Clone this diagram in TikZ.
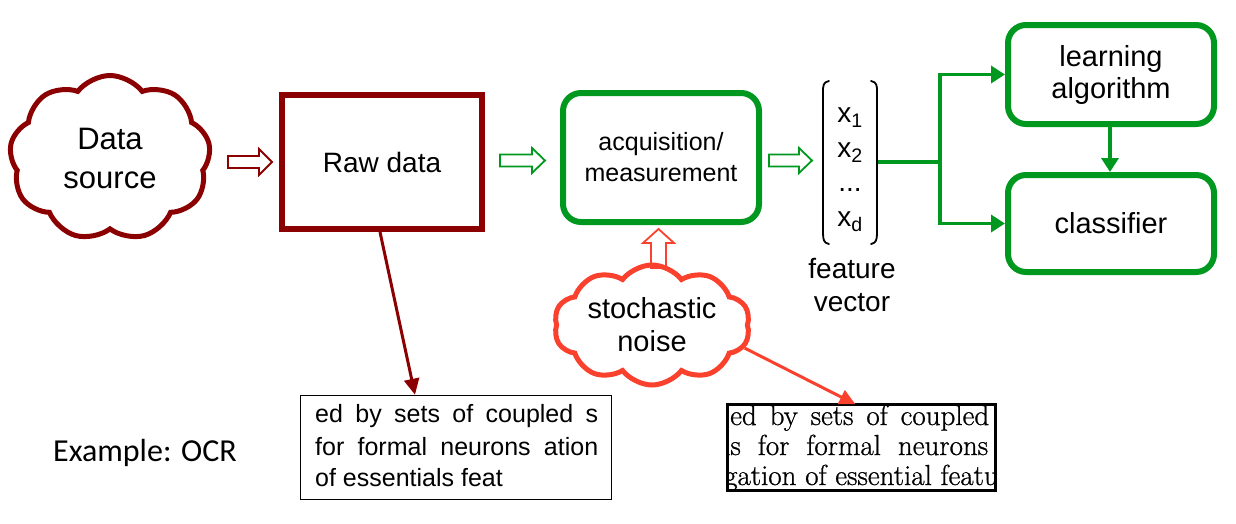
\documentclass[tikz,border=0pt]{standalone}
\usepackage{fontspec}
\setmainfont{Liberation Sans}
\newfontfamily\calibri{Carlito}
\newfontfamily\scanfont[FakeBold=0.8]{Latin Modern Roman}
\usetikzlibrary{shapes.symbols,arrows.meta}
\definecolor{dred}{RGB}{139,0,0}
\definecolor{nred}{RGB}{250,65,45}
\definecolor{dgreen}{RGB}{0,152,30}
\tikzset{
  cloudbox/.style={cloud, cloud puffs=9, cloud puff arc=105, line width=5pt, align=center, inner sep=0pt},
  hollow/.style={draw=#1, fill=white, line width=1.8pt, line join=miter},
  gbox/.style={draw=dgreen, line width=6pt, rounded corners=18pt, align=center},
  gline/.style={draw=dgreen, line width=3.5pt},
  garrow/.style={gline, -{Triangle[length=14pt,width=17pt]}},
  fA/.style={font=\fontsize{28}{33}\selectfont},
  scan/.style={anchor=base west, inner sep=0pt, font=\scanfont\fontsize{29}{30}\selectfont},
}
\begin{document}
\begin{tikzpicture}[x=1pt,y=-1pt]
\useasboundingbox (0,0) rectangle (1236,523);
% data source
\node[cloudbox, draw=dred, aspect=1.0, minimum width=201pt, minimum height=165pt,
      font=\fontsize{31}{39}\selectfont] (src) at (110,158) {Data\\source};
% raw data
\node[draw=dred, line width=6pt, minimum width=200pt, minimum height=134pt, fA] (raw) at (382,162) {Raw data};
% hollow arrows
\draw[hollow=dred] (228,156) -- (259,156) -- (259,149) -- (272,162) -- (259,175) -- (259,168) -- (228,168) -- cycle;
\draw[hollow=dgreen] (500,154.5) -- (532,154.5) -- (532,148) -- (545,160.5) -- (532,173) -- (532,166.5) -- (500,166.5) -- cycle;
\draw[hollow=dgreen] (769,154.5) -- (799,154.5) -- (799,148) -- (812,160.5) -- (799,173) -- (799,166.5) -- (769,166.5) -- cycle;
\draw[hollow=nred] (651,268) -- (651,243) -- (643,243) -- (658.5,229) -- (674,243) -- (666,243) -- (666,268) -- cycle;
% acquisition
\node[gbox, minimum width=196pt, minimum height=129pt, font=\fontsize{25}{31}\selectfont] (acq) at (661,157.5) {acquisition/\\measurement};
% feature vector
\node[minimum width=56pt, minimum height=165pt, inner sep=0pt, align=center,
      font=\fontsize{28}{34.5}\selectfont] (vec) at (850,170)
      {x\textsubscript{1}\\x\textsubscript{2}\\...\\x\textsubscript{d}};
\draw[line width=1.8pt, line cap=round]
  (829,81) .. controls (823,82) and (823,86) .. (823,92) -- (823,233) .. controls (823,240) and (824,243) .. (829,244);
\draw[line width=1.8pt, line cap=round]
  (871,81) .. controls (877,82) and (877,86) .. (877,92) -- (877,233) .. controls (877,240) and (876,243) .. (871,244);
\node[fA, align=center, inner sep=0pt] (fv) at (852,285) {feature\\vector};
% learning & classifier
\node[gbox, minimum width=206pt, minimum height=99pt, font=\fontsize{29}{32}\selectfont] (learn) at (1111,74.5) {\raisebox{-3pt}{learning}\\\raisebox{-3pt}{algorithm}};
\node[gbox, minimum width=206pt, minimum height=97pt, font=\fontsize{29}{34}\selectfont] (cls) at (1111,223.5) {classifier};
\coordinate (j) at (940,162);
\draw[gline] (vec.east |- j) -- (j);
\draw[garrow] (j) |- (learn.west);
\draw[garrow] (j) |- (cls.west);
\draw[garrow] ([xshift=-1pt]learn.south) -- ([xshift=-1pt]cls.north);
% noise
\node[cloudbox, draw=nred, cloud puffs=10, aspect=2.1, minimum width=196pt, minimum height=120pt,
      font=\fontsize{29}{33}\selectfont] (noise) at (652,325) {stochastic\\noise};
% OCR boxes
\node[draw, line width=1.5pt, minimum width=311pt, minimum height=104pt] (txt) at (456,447.5) {};
\node[anchor=base west, inner sep=0pt, font=\fontsize{25}{30}\selectfont] (t1) at (315,422) {\makebox[283pt][s]{ed by sets of coupled s}};
\node[anchor=base west, inner sep=0pt, font=\fontsize{25}{30}\selectfont] (t2) at (315,455) {\makebox[283pt][s]{for formal neurons ation}};
\node[anchor=base west, inner sep=0pt, font=\fontsize{25}{30}\selectfont] (t3) at (315,486) {of essentials feat};
\node[minimum width=268pt, minimum height=86pt, inner sep=0pt] (img) at (861.5,447.5) {};
\begin{scope}
\clip (img.north west) rectangle (img.south east);
\node[scan] (r1) at (730,425) {\makebox[259pt][s]{ed by sets of coupled}};
\node[scan] (r2) at (723,455) {\makebox[265pt][s]{ls for formal neurons}};
\node[scan] (r3) at (724,485) {gation of essential features};
\end{scope}
\draw[line width=2.5pt] (img.north west) rectangle (img.south east);
\draw[dred, line width=3pt, -{Triangle[length=16pt,width=15pt]}] ([xshift=-2pt]raw.south) -- ([xshift=-41pt]txt.north);
\draw[nred, line width=3pt, -{Triangle[length=16pt,width=15pt]}] (noise.-14) -- ([xshift=-6pt]img.north);
\node[font=\calibri\fontsize{32}{38}\selectfont, inner sep=0pt] (ex) at (145,453) {Example: OCR};
\end{tikzpicture}
\end{document}
